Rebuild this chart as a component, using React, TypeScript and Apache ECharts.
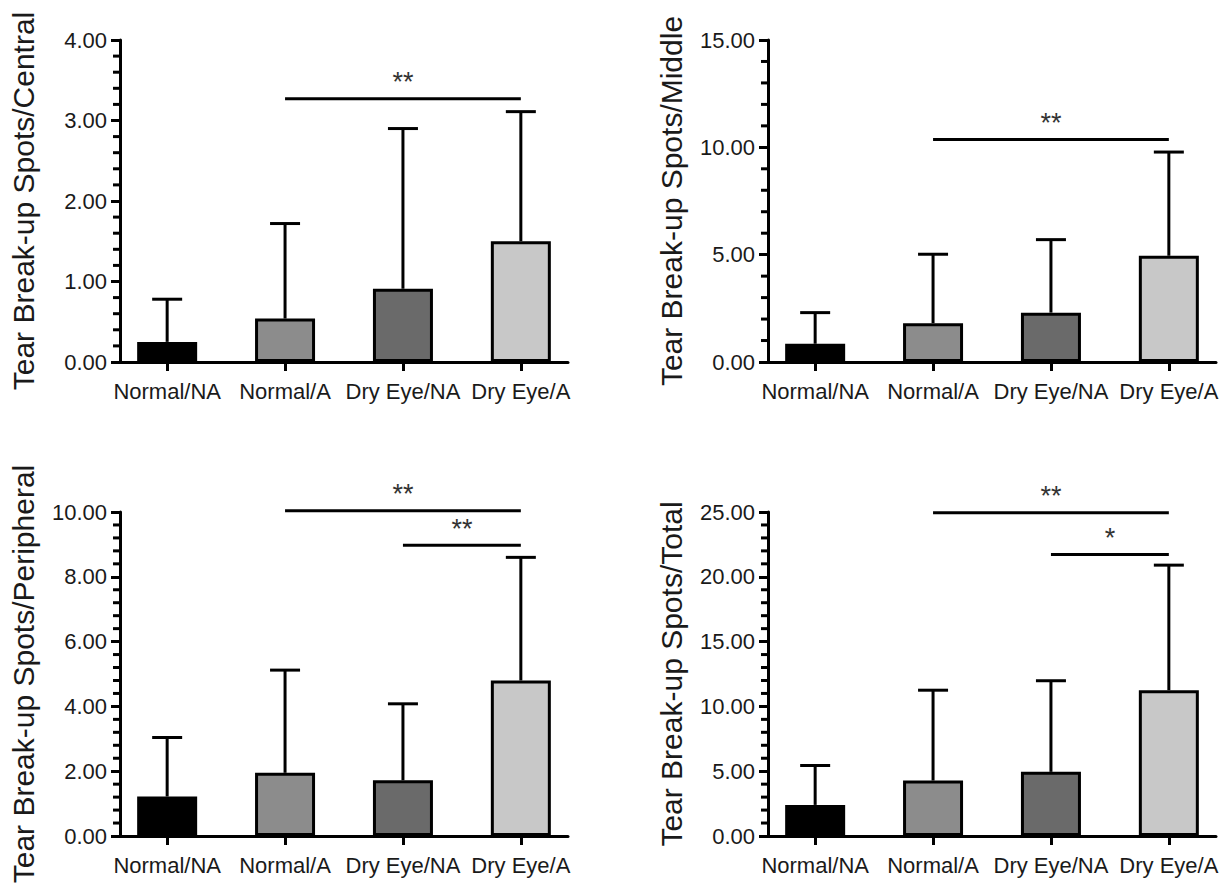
import React, { useEffect, useRef } from "react";
import * as echarts from "echarts";

const categories = ["Normal/NA", "Normal/A", "Dry Eye/NA", "Dry Eye/A"];

const centralMean = [0.25, 0.54, 0.91, 1.5];
const centralUpper = [0.78, 1.72, 2.9, 3.11];
const centralSig = [[1, 3, 3.27]];
const centralSigLabels = ["**"];

const middleMean = [0.85, 1.81, 2.3, 4.95];
const middleUpper = [2.3, 5.02, 5.7, 9.78];
const middleSig = [[1, 3, 10.37]];
const middleSigLabels = ["**"];

const peripheralMean = [1.22, 1.95, 1.72, 4.8];
const peripheralUpper = [3.04, 5.12, 4.08, 8.6];
const peripheralSig = [[1, 3, 10.04], [2, 3, 8.97]];
const peripheralSigLabels = ["**", "**"];

const totalMean = [2.4, 4.28, 4.95, 11.25];
const totalUpper = [5.44, 11.25, 11.98, 20.9];
const totalSig = [[1, 3, 24.95], [2, 3, 21.73]];
const totalSigLabels = ["**", "*"];

const FONT = "'Liberation Sans', Arial, Helvetica, sans-serif";
const barColors = ["#000000", "#8c8c8c", "#6a6a6a", "#c8c8c8"];
const X_MIN = -0.4;
const X_MAX = 3.4;

const panels = [
  { name: "Tear Break-up Spots/Central", mean: centralMean, upper: centralUpper, sig: centralSig, sigLabels: centralSigLabels, max: 4, interval: 1, grid: { left: 120, top: 40, width: 448, height: 322 } },
  { name: "Tear Break-up Spots/Middle", mean: middleMean, upper: middleUpper, sig: middleSig, sigLabels: middleSigLabels, max: 15, interval: 5, grid: { left: 768, top: 40, width: 448, height: 322 } },
  { name: "Tear Break-up Spots/Peripheral", mean: peripheralMean, upper: peripheralUpper, sig: peripheralSig, sigLabels: peripheralSigLabels, max: 10, interval: 2, grid: { left: 120, top: 512, width: 448, height: 324 } },
  { name: "Tear Break-up Spots/Total", mean: totalMean, upper: totalUpper, sig: totalSig, sigLabels: totalSigLabels, max: 25, interval: 5, grid: { left: 768, top: 512, width: 448, height: 324 } },
];

export default function App() {
  const ref = useRef<HTMLDivElement>(null);
  useEffect(() => {
    if (!ref.current) return;
    const chart = echarts.init(ref.current, null, { renderer: "svg" });
    const tickVals = categories.map((_, i) => i);
    const option: any = {
      animation: false,
      backgroundColor: "#ffffff",
      grid: panels.map((p) => ({ ...p.grid, containLabel: false, outerBoundsMode: "none" })),
      xAxis: panels.map((p, i) => ({
        gridIndex: i,
        type: "value",
        min: X_MIN,
        max: X_MAX,
        splitLine: { show: false },
        axisLine: { show: true, onZero: false, lineStyle: { color: "#000", width: 3 } },
        axisTick: { show: true, customValues: tickVals, length: 9, lineStyle: { color: "#000", width: 3 } },
        axisLabel: {
          customValues: tickVals,
          formatter: (v: number) => categories[Math.round(v)],
          fontSize: 22,
          color: "#1a1a1a",
          margin: 18,
          fontFamily: FONT,
        },
        z: 5,
      })),
      yAxis: panels.map((p, i) => ({
        gridIndex: i,
        type: "value",
        position: "left",
        min: 0,
        max: p.max,
        interval: p.interval,
        name: p.name,
        nameLocation: "middle",
        nameGap: 82,
        nameTextStyle: { fontSize: 30, color: "#1a1a1a", fontFamily: FONT },
        splitLine: { show: false },
        axisLine: { show: true, onZero: false, lineStyle: { color: "#000", width: 3 } },
        axisTick: { show: true, length: 9, lineStyle: { color: "#000", width: 3 } },
        axisLabel: {
          fontSize: 22,
          color: "#1a1a1a",
          margin: 13,
          fontFamily: FONT,
          formatter: (v: number) => v.toFixed(2),
        },
        z: 5,
      })),
      series: panels.flatMap((p, i) => {
        const minorStep = p.interval / 5;
        const minorTicks: number[][] = [];
        for (let k = 1; k * minorStep < p.max - 1e-9; k++) {
          if (k % 5 !== 0) minorTicks.push([X_MIN, k * minorStep]);
        }
        return [
          {
            type: "custom",
            xAxisIndex: i,
            yAxisIndex: i,
            z: 6,
            silent: true,
            clip: false,
            encode: { x: 0, y: 1 },
            data: minorTicks,
            renderItem: (params: any, api: any) => {
              const pt = api.coord([api.value(0), api.value(1)]);
              return {
                type: "line",
                shape: { x1: pt[0] - 7, y1: pt[1], x2: pt[0], y2: pt[1] },
                style: { stroke: "#000", lineWidth: 3 },
              };
            },
          },
          {
            type: "custom",
            xAxisIndex: i,
            yAxisIndex: i,
            z: 2,
            encode: { x: 0, y: [1, 2] },
            data: p.mean.map((v, j) => [j, v, p.upper[j]]),
            renderItem: (params: any, api: any) => {
              const x = api.value(0);
              const b = api.coord([x, api.value(1)]);
              const t = api.coord([x, api.value(2)]);
              return {
                type: "group",
                children: [
                  { type: "line", shape: { x1: b[0], y1: b[1], x2: t[0], y2: t[1] }, style: { stroke: "#000", lineWidth: 3 } },
                  { type: "line", shape: { x1: t[0] - 15, y1: t[1], x2: t[0] + 15, y2: t[1] }, style: { stroke: "#000", lineWidth: 3 } },
                ],
              };
            },
          },
          {
            type: "bar",
            xAxisIndex: i,
            yAxisIndex: i,
            z: 3,
            barWidth: 60,
            itemStyle: { borderColor: "#000", borderWidth: 3 },
            data: p.mean.map((v, j) => ({ value: [j, v], itemStyle: { color: barColors[j] } })),
          },
          {
            type: "custom",
            xAxisIndex: i,
            yAxisIndex: i,
            z: 4,
            clip: false,
            encode: { x: [0, 1], y: 2 },
            data: p.sig.map((s) => [s[0], s[1], s[2]]),
            renderItem: (params: any, api: any) => {
              const a = api.coord([api.value(0), api.value(2)]);
              const b = api.coord([api.value(1), api.value(2)]);
              return {
                type: "group",
                children: [
                  { type: "line", shape: { x1: a[0], y1: a[1], x2: b[0], y2: b[1] }, style: { stroke: "#000", lineWidth: 3 } },
                  {
                    type: "text",
                    x: (a[0] + b[0]) / 2,
                    y: a[1] - 3,
                    style: {
                      text: p.sigLabels[params.dataIndex],
                      fontSize: 27,
                      fontFamily: FONT,
                      fill: "#333",
                      align: "center",
                      verticalAlign: "bottom",
                    },
                  },
                ],
              };
            },
          },
        ];
      }),
    };
    chart.setOption(option);
    return () => chart.dispose();
  }, []);
  return (
    <div
      ref={ref}
      style={{ position: "fixed", left: 0, top: 0, width: 1220, height: 886, background: "#fff" }}
    />
  );
}
